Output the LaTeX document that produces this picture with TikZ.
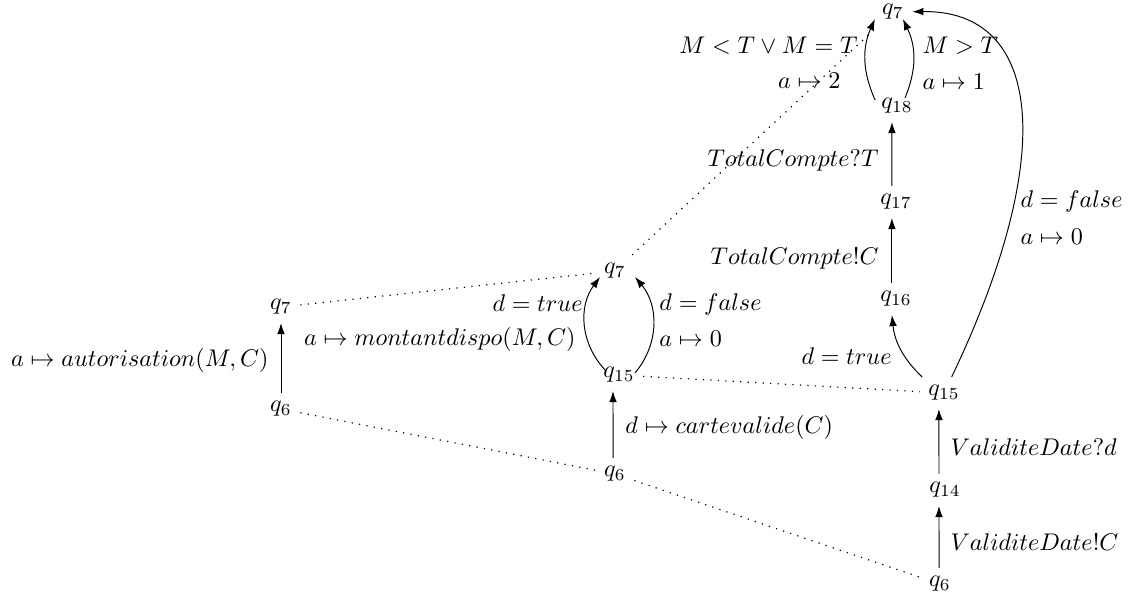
\documentclass[tikz,border=0pt]{standalone}
\usetikzlibrary{arrows.meta}
\begin{document}
\begin{tikzpicture}[x=0.01457cm,y=-0.01457cm,
  st/.style={inner sep=0.3333em},
  lab/.style={inner sep=0pt},
  arr/.style={-{Latex[length=4.6pt,width=3.2pt]}, line width=0.4pt},
  dots/.style={line width=0.5pt, dash pattern=on 0.5pt off 2.6pt}]
\useasboundingbox (0,0) rectangle (1128,595);
% states
\node[st] (q7L) at (281,307) {$q_7$};
\node[st] (q6L) at (281,409) {$q_6$};
\node[st] (q7M) at (615,271) {$q_7$};
\node[st] (q15M) at (619,375) {$q_{15}$};
\node[st] (q6M) at (615,474) {$q_6$};
\node[st] (q7T) at (893,12) {$q_7$};
\node[st] (q18) at (897,106) {$q_{18}$};
\node[st] (q17) at (896,202) {$q_{17}$};
\node[st] (q16) at (896,299) {$q_{16}$};
\node[st] (q15R) at (944,393) {$q_{15}$};
\node[st] (q14) at (945,490) {$q_{14}$};
\node[st] (q6R) at (940,584) {$q_6$};
% transitions
\draw[arr] (q6L) -- (q7L);
\draw[arr] ([xshift=-0.8pt]q6M.north) -- ([xshift=-2.5pt]q15M.south);
\draw[arr] ([xshift=-5.8pt,yshift=2.1pt]q15M.center) to[bend left=40] ([xshift=-6.2pt,yshift=-2.5pt]q7M.center);
\draw[arr] ([xshift=6.6pt,yshift=0.8pt]q15M.center) to[bend right=40] ([xshift=8.3pt,yshift=-2.5pt]q7M.center);
\draw[arr] ([xshift=-0.4pt]q6R.north) -- ([xshift=-2.5pt]q14.south);
\draw[arr] ([xshift=-2.5pt]q14.north) -- ([xshift=-2.1pt]q15R.south);
\draw[arr] (q15R) to[bend left=20] ([xshift=-1.7pt]q16.south);
\draw[arr] ([xshift=-1.7pt]q16.north) -- ([xshift=-1.7pt]q17.south);
\draw[arr] ([xshift=-1.7pt]q17.north) -- ([xshift=-2.1pt]q18.south);
\draw[arr] ([xshift=-9.1pt,yshift=2.5pt]q18.center) to[bend left=24] ([xshift=-7.5pt,yshift=-2.9pt]q7T.center);
\draw[arr] ([xshift=3.3pt,yshift=3.3pt]q18.center) to[bend right=24] ([xshift=4.1pt,yshift=-2.9pt]q7T.center);
\draw[arr] (q15R) .. controls (1060,150) and (1040,10) .. (q7T);
% dotted correspondences
\draw[dots] (q7L) -- (q7M);
\draw[dots] (q6L) -- (q6M);
\draw[dots] (q6M) -- (q6R);
\draw[dots] (q15M) -- (q15R);
\draw[dots] (q7M) -- (q7T);
% labels
\node[lab, anchor=east] (l1) at (269,360) {$a \mapsto autorisation(M,C)$};
\node[lab, anchor=east] (l2) at (583,303) {$d = true$};
\node[lab, anchor=east] (l3) at (576,339) {$a \mapsto montantdispo(M,C)$};
\node[lab, anchor=west] (l4) at (659,304) {$d = false$};
\node[lab, anchor=west] (l5) at (659,339) {$a \mapsto 0$};
\node[lab, anchor=west] (l6) at (625,427) {$d \mapsto cartevalide(C)$};
\node[lab, anchor=east] (l7) at (892,356) {$d = true$};
\node[lab, anchor=east] (l8) at (879,258) {$TotalCompte!C$};
\node[lab, anchor=east] (l9) at (879,160) {$TotalCompte?T$};
\node[lab, anchor=east] (l10) at (858,46) {$M < T \vee M = T$};
\node[lab, anchor=east] (l11) at (841,81) {$a \mapsto 2$};
\node[lab, anchor=west] (l12) at (922,46) {$M > T$};
\node[lab, anchor=west] (l13) at (922,82) {$a \mapsto 1$};
\node[lab, anchor=west] (l14) at (1020,201) {$d = false$};
\node[lab, anchor=west] (l15) at (1020,237) {$a \mapsto 0$};
\node[lab, anchor=west] (l16) at (950,447) {$ValiditeDate?d$};
\node[lab, anchor=west] (l17) at (950,542) {$ValiditeDate!C$};
\end{tikzpicture}
\end{document}
